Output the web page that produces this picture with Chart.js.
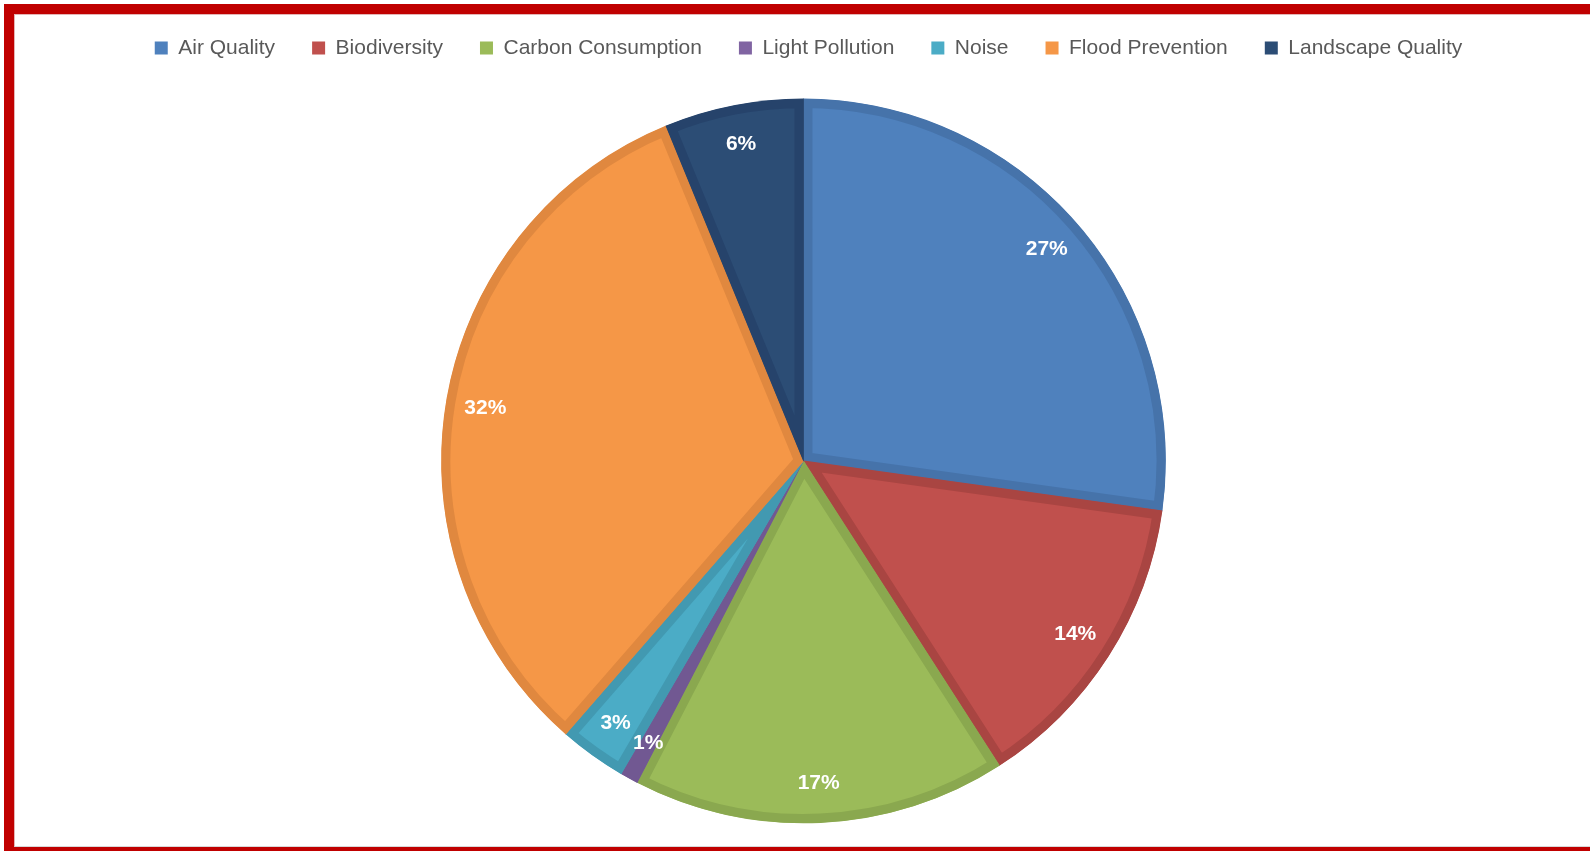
<!DOCTYPE html>
<html>
<head>
<meta charset="utf-8">
<script src="https://cdn.jsdelivr.net/npm/chart.js@4.4.1/dist/chart.umd.min.js"></script>
<style>
  html, body { margin: 0; padding: 0; background: #ffffff; overflow: hidden; }
  #frame {
    position: absolute; left: 4px; top: 4px; width: 1640px; height: 833px;
    border-left: 10px solid #C00000; border-top: 10px solid #C00000; border-bottom: 10px solid #C00000;
  }
  #inner {
    position: absolute; left: 0; top: 0; right: 0; bottom: 0;
    border-left: 1px solid #E4B4B4; border-top: 1px solid #E4B4B4; border-bottom: 1px solid #D8D8D8;
  }
  #c { position: absolute; left: 0; top: 0; }
</style>
</head>
<body>
<div id="frame"><div id="inner"></div></div>
<canvas id="c" width="1590" height="851"></canvas>
<script>
const categories = ["Air Quality", "Biodiversity", "Carbon Consumption", "Light Pollution", "Noise", "Flood Prevention", "Landscape Quality"];
const shares = [27.2, 13.7, 16.7, 0.8, 3.0, 32.4, 6.2];
const fillColors = ["#4F81BD", "#C0504D", "#9BBB59", "#8064A2", "#4BACC6", "#F59747", "#2C4D75"];
const edgeColors = ["#4673AA", "#A94542", "#8AA84F", "#715892", "#4299B1", "#E0883F", "#26436B"];

const legendSpacer = {
  id: 'legendSpacer',
  afterInit(chart) {
    const lg = chart.legend;
    const orig = lg.fit;
    lg.fit = function () { orig.call(this); this.height += 30; };
  },
  afterLayout(chart) {
    chart.legend.left += 5;
    chart.legend.right += 5;
  }
};

const pctLabels = {
  id: 'pctLabels',
  afterDatasetsDraw(chart) {
    const ctx = chart.ctx;
    const meta = chart.getDatasetMeta(0);
    const data = chart.data.datasets[0].data;
    const total = data.reduce((a, b) => a + b, 0);
    ctx.save();
    ctx.fillStyle = '#ffffff';
    ctx.font = 'bold 21px "Liberation Sans", Arial, sans-serif';
    ctx.textAlign = 'center';
    ctx.textBaseline = 'middle';
    meta.data.forEach((arc, i) => {
      const p = arc.getProps(['x', 'y', 'startAngle', 'endAngle', 'outerRadius'], true);
      const mid = (p.startAngle + p.endAngle) / 2;
      const r = p.outerRadius * 0.89;
      const txt = Math.round(data[i] / total * 100) + '%';
      ctx.fillText(txt, p.x + Math.cos(mid) * r, p.y + Math.sin(mid) * r);
    });
    ctx.restore();
  }
};

new Chart(document.getElementById('c'), {
  type: 'pie',
  data: {
    labels: categories,
    datasets: [{
      data: shares,
      backgroundColor: fillColors,
      borderColor: edgeColors,
      borderWidth: 9,
      borderAlign: 'inner'
    }]
  },
  options: {
    responsive: false,
    devicePixelRatio: 1,
    animation: false,
    events: [],
    layout: { padding: { left: 17, right: 0, top: 0.6, bottom: 27.7 } },
    plugins: {
      tooltip: { enabled: false },
      legend: {
        position: 'top',
        labels: {
          boxWidth: 13,
          boxHeight: 13,
          padding: 37,
          color: '#595959',
          font: { family: '"Liberation Sans", Arial, sans-serif', size: 21 },
          generateLabels: (chart) => Chart.overrides.pie.plugins.legend.labels.generateLabels(chart).map(l => Object.assign(l, { lineWidth: 0, strokeStyle: 'rgba(0,0,0,0)' }))
        }
      }
    }
  },
  plugins: [legendSpacer, pctLabels]
});
</script>
</body>
</html>
